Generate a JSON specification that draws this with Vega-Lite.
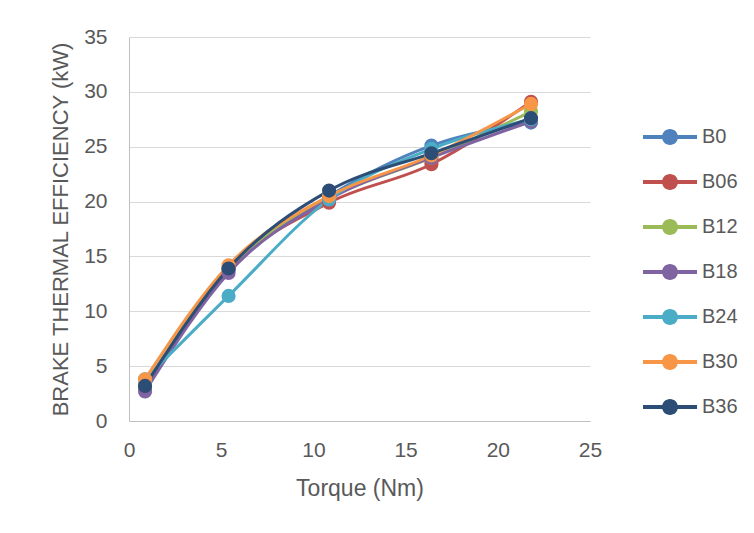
{
  "$schema": "https://vega.github.io/schema/vega-lite/v6.json",
  "autosize": {"type": "none"},
  "width": 461,
  "height": 384,
  "padding": {"left": 129, "top": 37, "right": 164, "bottom": 112},
  "background": "white",
  "config": {
    "font": "Liberation Sans",
    "view": {"stroke": null},
    "axis": {"labelColor": "#595959", "titleColor": "#595959", "labelFontSize": 21, "titleFontWeight": "normal", "gridColor": "#d9d9d9", "domainColor": "#bfbfbf", "ticks": false, "labelFont": "Liberation Sans", "titleFont": "Liberation Sans"}
  },
  "data": {"values": [
    {"torque": 0.87, "fuel": "B0", "bte": 3.3},
    {"torque": 5.4, "fuel": "B0", "bte": 13.8},
    {"torque": 10.85, "fuel": "B0", "bte": 20.5},
    {"torque": 16.4, "fuel": "B0", "bte": 25.1},
    {"torque": 21.8, "fuel": "B0", "bte": 27.2},
    {"torque": 0.87, "fuel": "B06", "bte": 3.1},
    {"torque": 5.4, "fuel": "B06", "bte": 13.8},
    {"torque": 10.85, "fuel": "B06", "bte": 19.9},
    {"torque": 16.4, "fuel": "B06", "bte": 23.4},
    {"torque": 21.8, "fuel": "B06", "bte": 29.1},
    {"torque": 0.87, "fuel": "B12", "bte": 3.2},
    {"torque": 5.4, "fuel": "B12", "bte": 13.9},
    {"torque": 10.85, "fuel": "B12", "bte": 20.3},
    {"torque": 16.4, "fuel": "B12", "bte": 24.0},
    {"torque": 21.8, "fuel": "B12", "bte": 28.2},
    {"torque": 0.87, "fuel": "B18", "bte": 2.7},
    {"torque": 5.4, "fuel": "B18", "bte": 13.5},
    {"torque": 10.85, "fuel": "B18", "bte": 20.2},
    {"torque": 16.4, "fuel": "B18", "bte": 24.0},
    {"torque": 21.8, "fuel": "B18", "bte": 27.3},
    {"torque": 0.87, "fuel": "B24", "bte": 3.8},
    {"torque": 5.4, "fuel": "B24", "bte": 11.4},
    {"torque": 10.85, "fuel": "B24", "bte": 20.2},
    {"torque": 16.4, "fuel": "B24", "bte": 24.8},
    {"torque": 21.8, "fuel": "B24", "bte": 27.5},
    {"torque": 0.87, "fuel": "B30", "bte": 3.8},
    {"torque": 5.4, "fuel": "B30", "bte": 14.2},
    {"torque": 10.85, "fuel": "B30", "bte": 20.5},
    {"torque": 16.4, "fuel": "B30", "bte": 24.2},
    {"torque": 21.8, "fuel": "B30", "bte": 28.9},
    {"torque": 0.87, "fuel": "B36", "bte": 3.2},
    {"torque": 5.4, "fuel": "B36", "bte": 13.9},
    {"torque": 10.85, "fuel": "B36", "bte": 21.0},
    {"torque": 16.4, "fuel": "B36", "bte": 24.4},
    {"torque": 21.8, "fuel": "B36", "bte": 27.6}
  ]},
  "encoding": {
    "x": {"field": "torque", "type": "quantitative", "scale": {"domain": [0, 25], "nice": false}, "axis": {"values": [0, 5, 10, 15, 20, 25], "grid": false, "labelFlush": false, "title": "Torque (Nm)", "titleFontSize": 23, "labelPadding": 18, "titleY": 67, "titleBaseline": "middle"}},
    "y": {"field": "bte", "type": "quantitative", "scale": {"domain": [0, 35], "nice": false}, "axis": {"values": [0, 5, 10, 15, 20, 25, 30, 35], "title": "BRAKE THERMAL EFFICIENCY (kW)", "titleFontSize": 22, "labelPadding": 22, "titleX": -69, "titleY": 192, "titleAngle": 270, "titleAlign": "center", "titleBaseline": "middle"}},
    "color": {"field": "fuel", "type": "nominal", "scale": {"domain": ["B0", "B06", "B12", "B18", "B24", "B30", "B36"], "range": ["#4f81bd", "#c0504d", "#9bbb59", "#8064a2", "#4bacc6", "#f79646", "#2c4d75"]},
      "legend": {"title": null, "orient": "none", "legendX": 521, "legendY": 80, "padding": 0, "symbolType": "M-1.35,-0.1H1.35V0.1H-1.35Z M0.4,0 A0.4,0.4 0 1,1 -0.4,0 A0.4,0.4 0 1,1 0.4,0 Z", "symbolSize": 1600, "symbolStrokeWidth": 0, "symbolOpacity": 1, "labelFontSize": 20, "labelColor": "#595959", "labelFont": "Liberation Sans", "rowPadding": 15, "labelOffset": 12,
        "encode": {"symbols": {"update": {"fill": {"scale": "color", "field": "value"}, "stroke": {"value": "transparent"}, "opacity": {"value": 1}}}}}}
  },
  "layer": [
    {"mark": {"type": "line", "interpolate": "monotone", "strokeWidth": 3}},
    {"mark": {"type": "point", "filled": true, "opacity": 1, "size": 200}}
  ]
}
